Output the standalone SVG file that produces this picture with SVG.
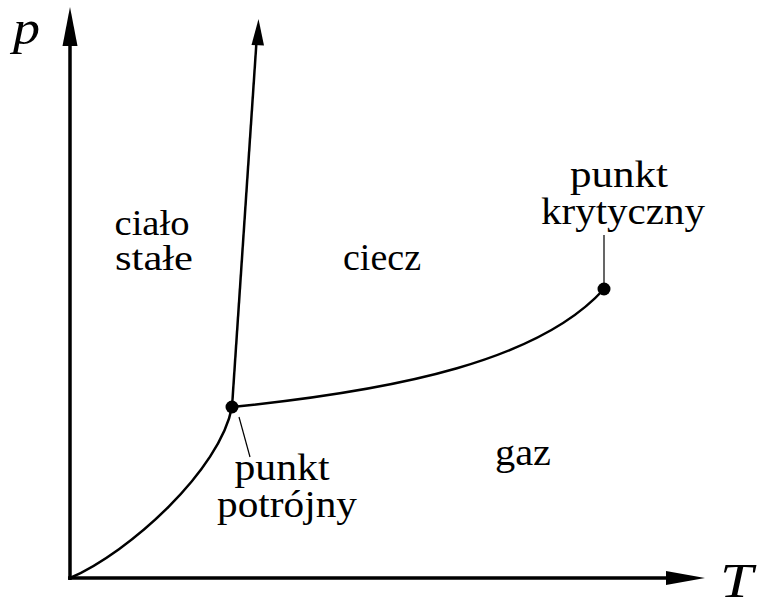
<svg xmlns="http://www.w3.org/2000/svg" width="759" height="599" viewBox="0 0 759 599">
<defs>
<style>
.lbl{font-family:"Liberation Serif","DejaVu Serif","Noto Serif",serif;font-size:37px;fill:#000;text-anchor:middle}
.ax{font-family:"Liberation Serif","DejaVu Serif","Noto Serif",serif;font-style:italic;font-size:48px;fill:#000}
.axis{stroke:#000;stroke-width:3.5;fill:none}
.curve{stroke:#000;stroke-width:2.5;fill:none}
.leader{stroke:#000;stroke-width:1.2;fill:none}
</style>
</defs>
<rect width="759" height="599" fill="#fff"/>
<g id="connectors">
<line class="axis" x1="70" y1="580" x2="70" y2="40"/>
<polygon points="70,7 62.5,46 77.5,46" fill="#000"/>
<line class="axis" x1="68" y1="578" x2="672" y2="578"/>
<polygon points="705,578 666,571 666,585" fill="#000"/>
<path class="curve" d="M70,578 C130,552 220,470 232,407"/>
<path class="curve" d="M232,407 C400,390 540,360 604,289"/>
<line class="curve" x1="232" y1="407" x2="256.6" y2="40"/>
<polygon points="258.5,19 251.5,45 264,45.5" fill="#000"/>
<line class="leader" x1="239" y1="417" x2="250" y2="457"/>
<line class="leader" x1="604" y1="235" x2="604" y2="285"/>
</g>
<g id="triple-point"><circle cx="232" cy="407" r="6.5" fill="#000"/></g>
<g id="critical-point"><circle cx="604" cy="289" r="6.5" fill="#000"/></g>
<g id="axis-p"><text class="ax" x="13" y="44" textLength="27" lengthAdjust="spacingAndGlyphs">p</text></g>
<g id="axis-T"><text class="ax" x="720" y="597" textLength="33" lengthAdjust="spacingAndGlyphs">T</text></g>
<g id="solid"><text class="lbl" style="font-size:35px" x="152" y="235" textLength="75" lengthAdjust="spacingAndGlyphs">ciało</text><text class="lbl" style="font-size:35px" x="154" y="270" textLength="78" lengthAdjust="spacingAndGlyphs">stałe</text></g>
<g id="liquid"><text class="lbl" x="382" y="270" textLength="78" lengthAdjust="spacingAndGlyphs">ciecz</text></g>
<g id="gas"><text class="lbl" x="523" y="465" textLength="56" lengthAdjust="spacingAndGlyphs">gaz</text></g>
<g id="critical-label"><text class="lbl" x="619" y="187" textLength="98" lengthAdjust="spacingAndGlyphs">punkt</text><text class="lbl" x="623" y="224" textLength="164" lengthAdjust="spacingAndGlyphs">krytyczny</text></g>
<g id="triple-label"><text class="lbl" x="282" y="480" textLength="95" lengthAdjust="spacingAndGlyphs">punkt</text><text class="lbl" x="287" y="517" textLength="140" lengthAdjust="spacingAndGlyphs">potrójny</text></g>
</svg>
